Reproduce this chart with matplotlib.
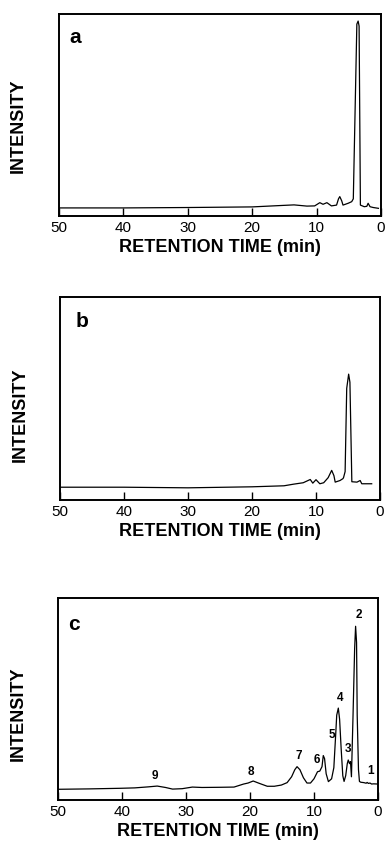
import matplotlib
matplotlib.use("Agg")
import matplotlib.pyplot as plt

plt.rcParams["font.family"] = ["Liberation Sans", "DejaVu Sans"]

# ---- data (time in min, intensity in % of frame) ----
TIME_A = [50, 40, 30, 20, 15.5, 13.5, 11.5, 10.3, 9.5, 9.0, 8.4, 7.7, 6.9, 6.6, 6.4,
          6.1, 5.9, 5.1, 4.55, 4.3, 3.75, 3.55, 3.4, 3.2, 2.6, 2.2, 2.0, 1.7, 1.2, 0.4]
INT_A = [4.0, 4.0, 4.2, 4.5, 5.2, 5.5, 4.9, 5.0, 6.6, 5.8, 6.6, 5.0, 5.4, 8.5, 9.6,
         7.5, 5.4, 6.3, 7.1, 8.5, 95.0, 96.5, 94.0, 5.4, 4.6, 4.8, 6.3, 4.6, 4.2, 3.8]

TIME_B = [50, 40, 30, 20, 15, 13.5, 12, 10.9, 10.5, 10.0, 9.4, 8.8, 8.1, 7.55, 7.2,
          7.0, 6.25, 5.8, 5.7, 5.45, 5.2, 4.9, 4.7, 4.4, 3.6, 3.1, 2.85, 1.3]
INT_B = [6.3, 6.3, 6.0, 6.5, 7.0, 7.8, 8.5, 10.1, 8.3, 10.0, 8.0, 8.5, 11.0, 14.6, 12.0,
         8.8, 9.6, 10.5, 11.0, 14.0, 55.0, 62.0, 58.0, 9.0, 8.8, 9.6, 8.0, 8.0]

TIME_C = [50, 45.1, 40.2, 38.0, 35.9, 34.5, 33.2, 32.1, 30.6, 29.0, 27.5, 24.5, 22.5,
          21.7, 21.0, 20.3, 19.5, 18.6, 17.3, 16.2, 15.1, 14.2, 13.5, 13.0, 12.65,
          12.2, 11.65, 11.1, 10.55, 10.0, 9.45, 9.1, 8.75, 8.55, 8.35, 8.1, 7.75,
          7.25, 6.9, 6.6, 6.45, 6.2, 6.0, 5.75, 5.5, 5.3, 5.05, 4.8, 4.65, 4.45,
          4.3, 4.15, 3.9, 3.65, 3.5, 3.35, 3.25, 3.05, 2.9, 2.7, 2.2, 1.85, 1.7,
          1.5, 1.25, 1.0, 0.7, 0.0]
INT_C = [5.3, 5.5, 5.8, 6.0, 6.5, 6.9, 6.2, 5.4, 5.6, 6.4, 6.2, 6.3, 6.4, 7.2, 7.9,
         8.4, 9.4, 8.3, 6.8, 6.8, 7.4, 8.6, 11.5, 15.0, 16.5, 15.0, 11.0, 8.4,
         8.4, 10.5, 14.0, 14.3, 16.5, 22.0, 20.5, 13.0, 9.1, 10.5, 16.0, 33.0, 42.0,
         45.5, 40.0, 25.0, 12.0, 9.2, 12.0, 18.0, 19.8, 18.0, 19.0, 11.5, 42.0, 75.0, 86.0,
         78.0, 42.0, 15.0, 9.2, 8.8, 8.6, 8.3, 8.7, 8.2, 8.4, 7.9, 8.0, 7.9]

# numbered peaks in panel c
PEAK_LABELS = ["1", "2", "3", "4", "5", "6", "7", "8", "9"]
PEAK_TIME = [1.1, 3.0, 4.75, 5.95, 7.15, 9.6, 12.45, 19.9, 34.8]
PEAK_INT = [14.4, 91.6, 25.0, 50.5, 32.2, 20.0, 21.8, 14.1, 11.9]

X_TICKS = [50, 40, 30, 20, 10, 0]
PANEL_TAGS = ["a", "b", "c"]

# axes rectangles in pixels: left, top, right, bottom (of a 386 x 843 canvas)
W, H = 386, 843
BOXES = [(59, 14, 381, 216), (60, 297, 380, 500), (58, 598, 378, 800)]
YLABEL_Y = [0.446, 0.419, 0.428]
TAG_Y = [0.858, 0.854, 0.842]
TAG_X = [0.05, 0.07, 0.05]

fig = plt.figure(figsize=(W / 100, H / 100), dpi=100)

traces = [(TIME_A, INT_A), (TIME_B, INT_B), (TIME_C, INT_C)]
for i, ((t, y), (l, top, r, b)) in enumerate(zip(traces, BOXES)):
    ax = fig.add_axes([l / W, (H - b) / H, (r - l) / W, (b - top) / H])
    ax.plot(t, y, color="black", lw=0.9)
    ax.set_xlim(50, 0)
    ax.set_ylim(0, 100)
    ax.set_xticks(X_TICKS)
    ax.set_xticklabels([str(v) for v in X_TICKS])
    ax.set_yticks([])
    ax.tick_params(axis="x", direction="in", length=5.5, width=1.0, pad=3.5,
                   labelsize=11, colors="black")
    for s in ax.spines.values():
        s.set_linewidth(1.4)
        s.set_color("black")
    ax.set_xlabel("RETENTION TIME (min)", fontsize=13, fontweight="bold", labelpad=3)
    ax.set_ylabel("INTENSITY", fontsize=13, fontweight="bold")
    ax.yaxis.set_label_coords(-0.099, YLABEL_Y[i])
    ax.text(TAG_X[i], TAG_Y[i], PANEL_TAGS[i], transform=ax.transAxes,
            fontsize=15, fontweight="bold", ha="center", va="baseline")
    if i == 2:
        for lab, pt, pv in zip(PEAK_LABELS, PEAK_TIME, PEAK_INT):
            ax.text(pt, pv, lab, fontsize=8.5, fontweight="bold", ha="center", va="center")

fig.savefig("out.png", dpi=100, facecolor="white")
